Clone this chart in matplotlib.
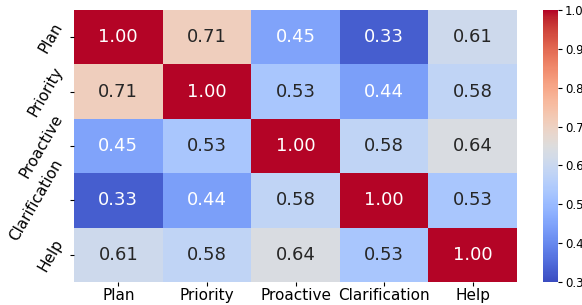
import numpy as np
import matplotlib
matplotlib.use("Agg")
import matplotlib.pyplot as plt
import seaborn as sns

labels = ["Plan", "Priority", "Proactive", "Clarification", "Help"]
row_plan = [1.00, 0.71, 0.45, 0.33, 0.61]
row_priority = [0.71, 1.00, 0.53, 0.44, 0.58]
row_proactive = [0.45, 0.53, 1.00, 0.58, 0.64]
row_clarification = [0.33, 0.44, 0.58, 1.00, 0.53]
row_help = [0.61, 0.58, 0.64, 0.53, 1.00]

data = np.array([row_plan, row_priority, row_proactive, row_clarification, row_help])

fig = plt.figure(figsize=(5.82, 3.05), dpi=100)
ax = fig.add_axes([74/582, 1-282/305, 443/582, 272/305])
cax = fig.add_axes([543/582, 1-282/305, 15/582, 272/305])

sns.heatmap(data, ax=ax, cbar_ax=cax, cmap="coolwarm", vmin=0.3, vmax=1.0,
            annot=True, fmt=".2f", annot_kws={"size": 13},
            xticklabels=labels, yticklabels=labels)
ax.tick_params(axis="x", labelsize=11, rotation=0, length=3, pad=1.5)
ax.tick_params(axis="y", labelsize=11, length=3, pad=3)
for t in ax.get_yticklabels():
    t.set_rotation(60)
    t.set_va("center")
    t.set_ha("right")
cax.tick_params(labelsize=8.5, length=3, pad=2)
cax.set_yticks([0.3, 0.4, 0.5, 0.6, 0.7, 0.8, 0.9, 1.0])
for s in cax.spines.values():
    s.set_visible(False)

fig.savefig("out.png", dpi=100)
